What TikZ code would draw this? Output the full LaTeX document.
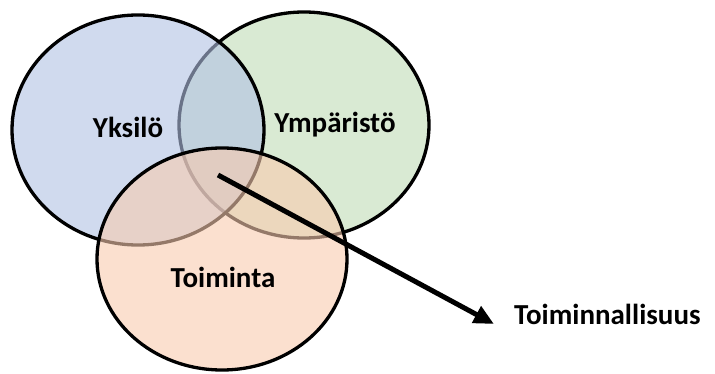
\documentclass[tikz,border=0pt]{standalone}
\usepackage{fontspec}
\setmainfont{Carlito}
\usetikzlibrary{positioning, shapes.geometric, arrows.meta}

\begin{document}
\begin{tikzpicture}[x=1pt, y=-1pt]
\definecolor{blueset}{RGB}{177,193,227}
\definecolor{greenset}{RGB}{192,220,182}
\definecolor{orangeset}{RGB}{248,203,175}
\useasboundingbox (0,0) rectangle (715,374);

\node (ymp) [draw, ellipse, line width=3.3pt, fill=greenset, fill opacity=0.6, draw opacity=1, minimum width=250pt, minimum height=226pt, inner sep=0pt] at (304,125) {};
\node (yks) [draw, ellipse, line width=3.3pt, fill=blueset, fill opacity=0.6, draw opacity=1, minimum width=252pt, minimum height=230pt, inner sep=0pt] at (138,130) {};
\node (toi) [draw, ellipse, line width=3.3pt, fill=orangeset, fill opacity=0.6, draw opacity=1, minimum width=250pt, minimum height=222pt, inner sep=0pt] at (222,259) {};

\node (yksl) [font=\fontsize{29}{33}\selectfont\bfseries] at (128,127) {Yksilö};
\node (ympl) [font=\fontsize{29}{33}\selectfont\bfseries] at (335,125) {Ympäristö};
\node (toil) [font=\fontsize{29}{33}\selectfont\bfseries] at (223,277) {Toiminta};
\node (funk) [font=\fontsize{29}{33}\selectfont\bfseries, anchor=west, inner sep=0pt] at (514,314) {Toiminnallisuus};

\coordinate (core) at (218,175);
\draw[-{Triangle[length=20pt,width=18pt]}, line width=5pt] (core) -- ([xshift=-20pt,yshift=-10pt]funk.west);
\end{tikzpicture}
\end{document}
